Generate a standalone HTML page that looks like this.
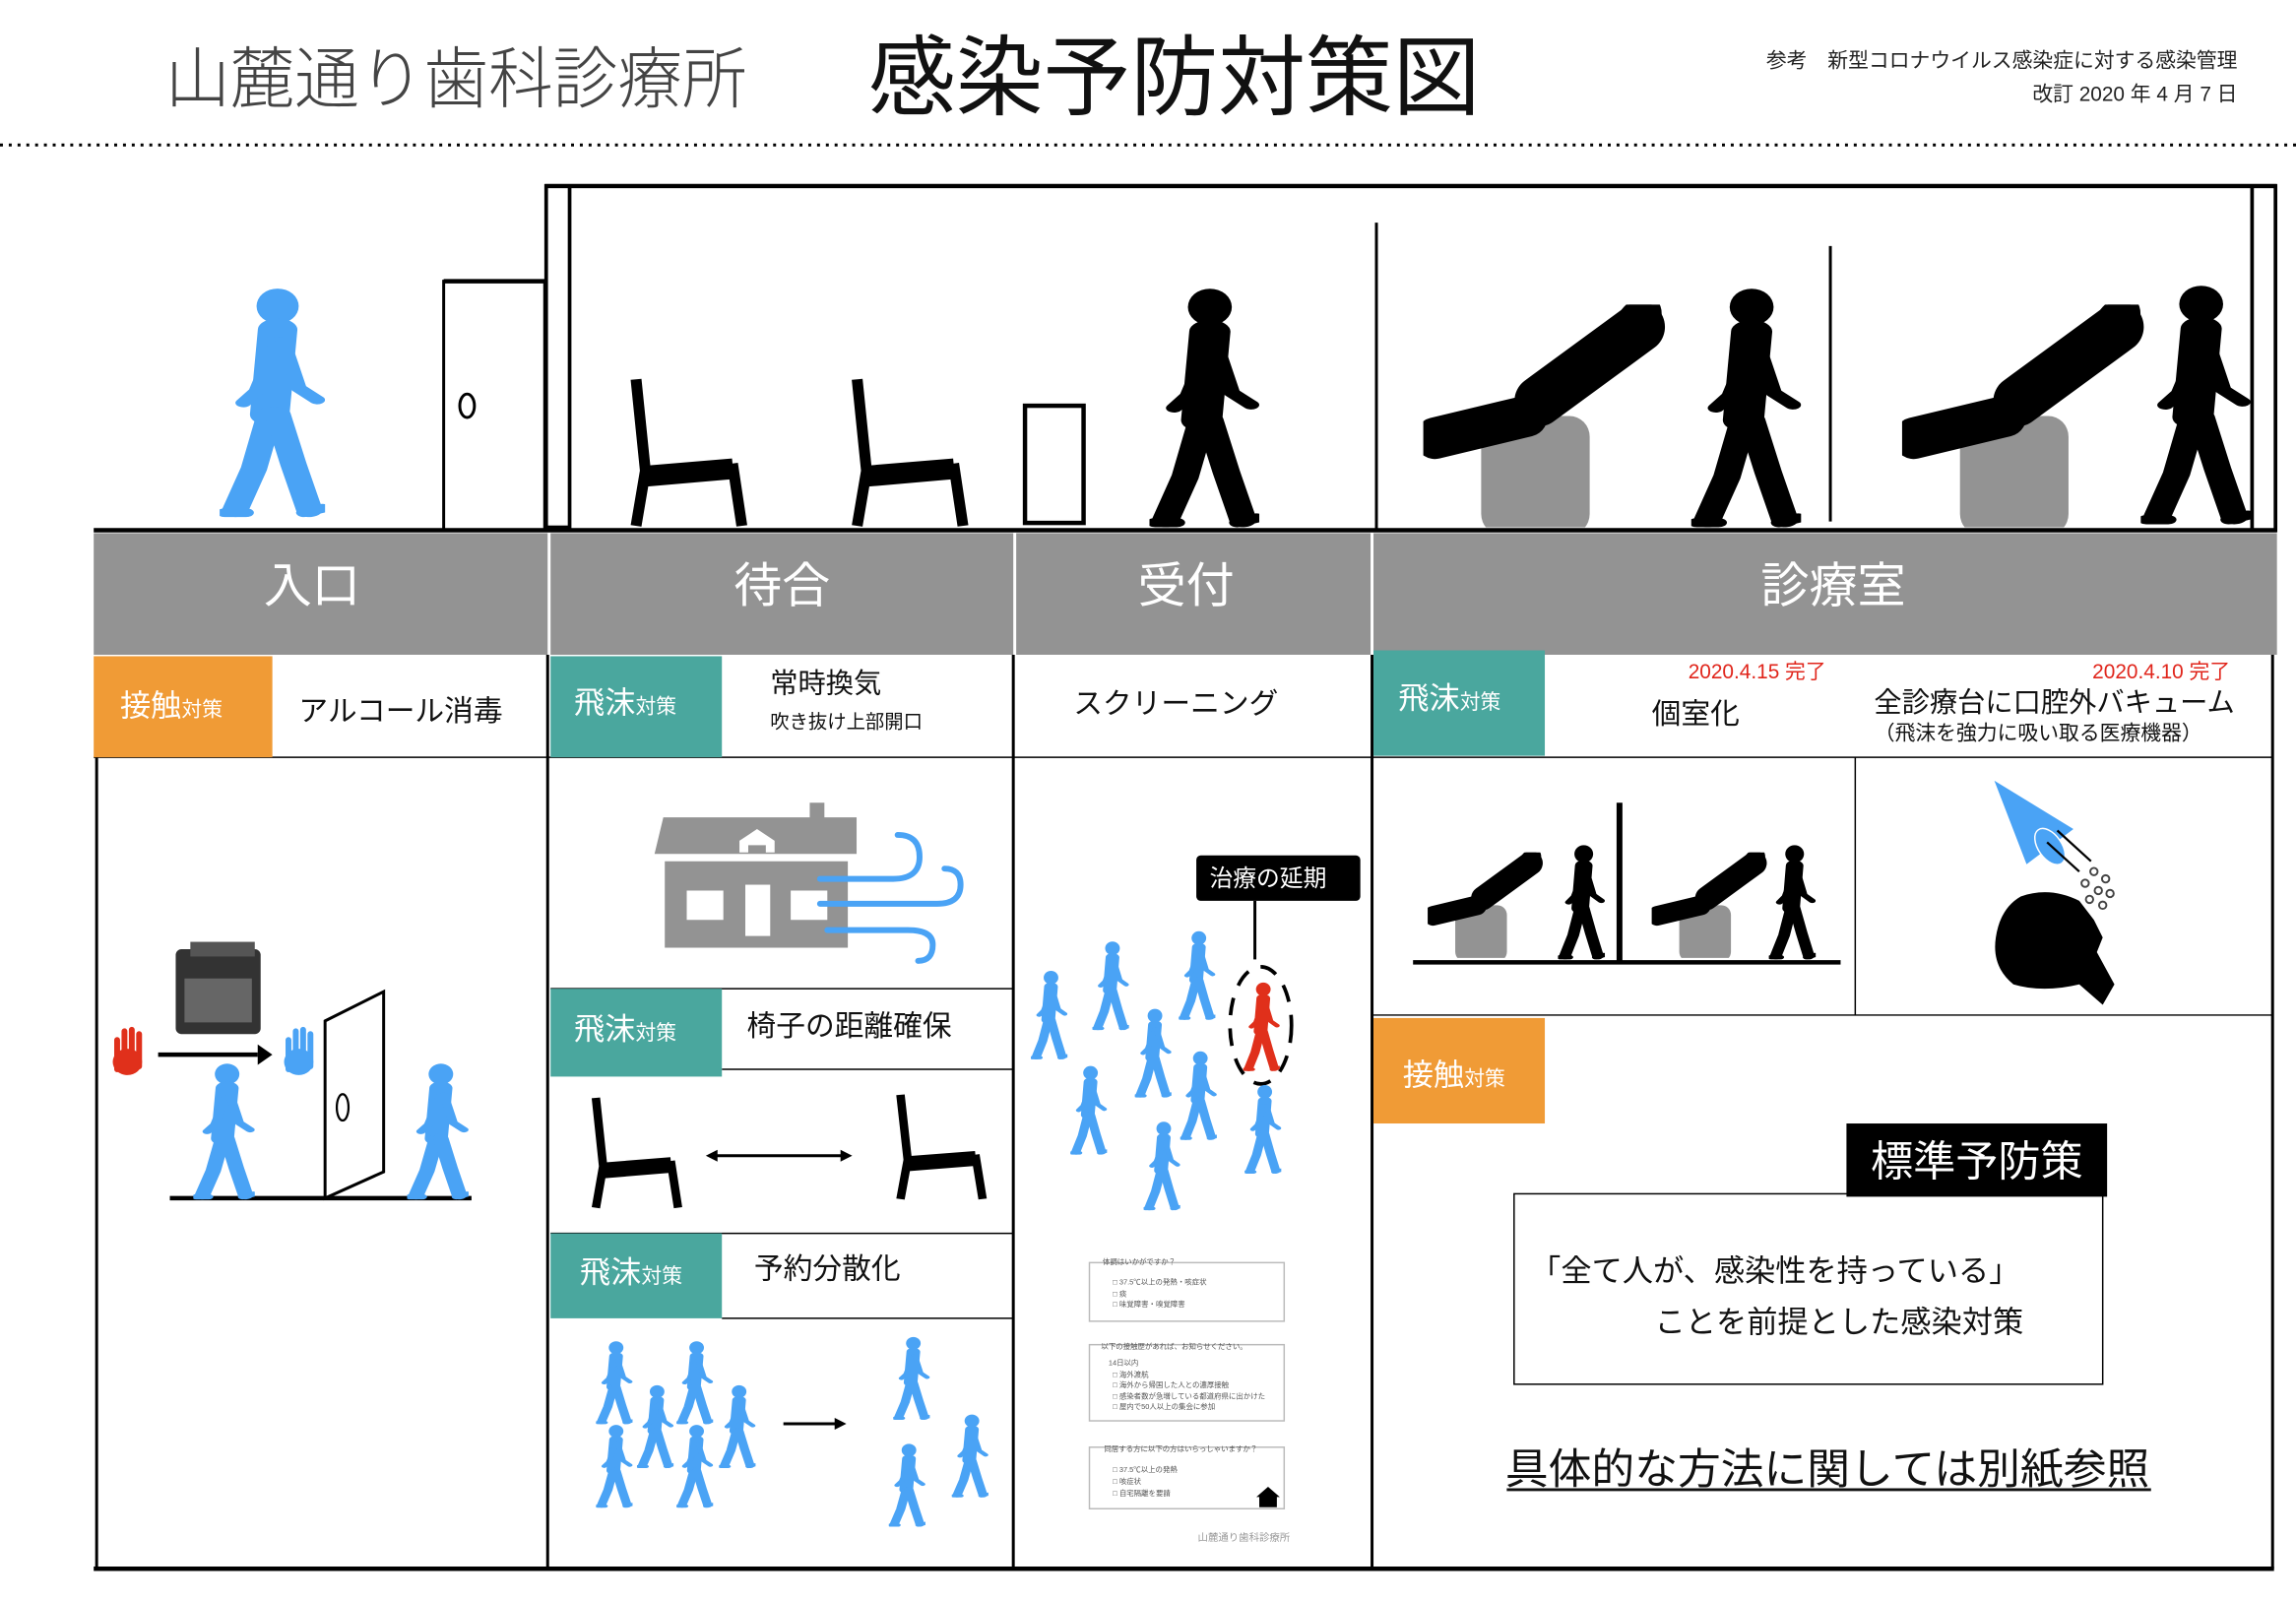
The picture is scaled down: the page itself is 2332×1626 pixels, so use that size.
<!DOCTYPE html>
<html><head><meta charset="utf-8"><style>
html,body{margin:0;padding:0;background:#fff}
svg{display:block}
text{font-family:"Liberation Sans","Noto Sans CJK JP",sans-serif}
</style></head><body>
<svg width="2332" height="1626" viewBox="0 0 1568 1093" preserveAspectRatio="none" xmlns="http://www.w3.org/2000/svg">
<defs>
<symbol id="p" viewBox="0 0 40 160" preserveAspectRatio="none">
<g fill="currentColor" stroke="currentColor" stroke-linecap="round" stroke-linejoin="round">
<ellipse cx="22" cy="14" rx="8" ry="12" stroke="none"/>
<path d="M22 30 L19 88" stroke-width="15" fill="none"/>
<path d="M22 38 L14 72 L9 80" stroke-width="6" fill="none"/>
<path d="M24 38 L30 70 L37 78" stroke-width="6" fill="none"/>
<path d="M19 88 L13 125 L6 153" stroke-width="10" fill="none"/>
<path d="M22 88 L28 122 L34 153" stroke-width="10" fill="none"/>
<path d="M2 155 L10 155 M32 155 L39 152" stroke-width="6"/>
</g></symbol>
<symbol id="ch" viewBox="0 0 80 105" preserveAspectRatio="none">
<g fill="none" stroke="#000" stroke-width="7" stroke-linejoin="round">
<path d="M6 2 L12 65 L6 103"/><path d="M12 65 L68 60"/><path d="M68 60 L74 103"/><path d="M12 72 L66 67" stroke-width="8"/>
</g></symbol>
<symbol id="dc" viewBox="0 0 170 150" preserveAspectRatio="none">
<rect x="40" y="75" width="75" height="80" rx="14" fill="#939393"/>
<path d="M8 90 L72 75" stroke="#000" stroke-width="28" stroke-linecap="round"/>
<path d="M80 65 L150 15" stroke="#000" stroke-width="34" stroke-linecap="round"/>
<ellipse cx="148" cy="12" rx="14" ry="20" transform="rotate(40 148 12)" fill="#000"/>
</symbol>
</defs>

<!-- header -->
<text x="113" y="70" font-size="46" fill="#444" font-weight="300" textLength="397" lengthAdjust="spacingAndGlyphs">山麓通り歯科診療所</text>
<text x="593" y="74" font-size="60" fill="#111" textLength="418" lengthAdjust="spacingAndGlyphs">感染予防対策図</text>
<text x="1528" y="46" font-size="14" fill="#222" text-anchor="end">参考　新型コロナウイルス感染症に対する感染管理</text>
<text x="1528" y="69" font-size="14" fill="#222" text-anchor="end">改訂 2020 年 4 月 7 日</text>
<line x1="0" y1="99" x2="1568" y2="99" stroke="#000" stroke-width="2" stroke-dasharray="2,4"/>

<!-- building -->
<line x1="372" y1="127" x2="1555" y2="127" stroke="#000" stroke-width="3"/>
<rect x="373" y="127" width="16" height="233" fill="none" stroke="#000" stroke-width="2.5"/>
<rect x="1538" y="127" width="16" height="235" fill="none" stroke="#000" stroke-width="2.5"/>
<rect x="303" y="192" width="69" height="170" fill="none" stroke="#000" stroke-width="2"/>
<line x1="303" y1="192" x2="372" y2="192" stroke="#000" stroke-width="3"/>
<ellipse cx="319" cy="277" rx="5" ry="8" fill="none" stroke="#000" stroke-width="2"/>
<line x1="940" y1="152" x2="940" y2="362" stroke="#000" stroke-width="2"/>
<line x1="1250" y1="168" x2="1250" y2="356" stroke="#000" stroke-width="2"/>
<line x1="64" y1="362" x2="1555" y2="362" stroke="#000" stroke-width="3"/>
<rect x="700" y="277" width="40" height="80" fill="none" stroke="#000" stroke-width="3"/>

<use href="#p" x="150" y="195" width="72" height="160" color="#4aa3f5"/>
<use href="#ch" x="428" y="257" width="85" height="104"/>
<use href="#ch" x="579" y="257" width="85" height="104"/>
<use href="#p" x="785" y="195" width="75" height="167" color="#000"/>
<use href="#dc" x="972" y="208" width="168" height="152"/>
<use href="#p" x="1155" y="195" width="75" height="167" color="#000"/>
<use href="#dc" x="1299" y="208" width="168" height="152"/>
<use href="#p" x="1462" y="193" width="75" height="167" color="#000"/>

<!-- header band -->
<rect x="64" y="364" width="1491" height="83" fill="#939393"/>
<g stroke="#fff" stroke-width="2"><line x1="375" y1="364" x2="375" y2="447"/><line x1="693" y1="364" x2="693" y2="447"/><line x1="937" y1="364" x2="937" y2="447"/></g>
<g font-size="33" fill="#fff" text-anchor="middle">
<text x="213" y="411">入口</text><text x="534" y="411">待合</text><text x="810" y="411">受付</text><text x="1252" y="411">診療室</text></g>

<!-- grid lines -->
<g stroke="#000" stroke-width="2" fill="none">
<line x1="66" y1="517" x2="66" y2="1071"/>
<line x1="374" y1="447" x2="374" y2="1071"/>
<line x1="692" y1="447" x2="692" y2="1071"/>
<line x1="937" y1="447" x2="937" y2="1071"/>
<line x1="1552" y1="447" x2="1552" y2="1071"/>
<line x1="64" y1="1071" x2="1553" y2="1071" stroke-width="3"/>
<line x1="64" y1="517" x2="1552" y2="517" stroke-width="1"/>
<line x1="376" y1="675" x2="692" y2="675" stroke-width="1"/>
<line x1="493" y1="730" x2="692" y2="730" stroke-width="1"/>
<line x1="376" y1="842" x2="692" y2="842" stroke-width="1"/>
<line x1="493" y1="900" x2="692" y2="900" stroke-width="1"/>
<line x1="938" y1="693" x2="1552" y2="693" stroke-width="1"/>
<line x1="1267" y1="517" x2="1267" y2="693" stroke-width="1"/>
</g>

<!-- row 2 -->
<rect x="64" y="448" width="122" height="69" fill="#f09b36"/>
<text x="82" y="489" font-size="21" fill="#fff">接触<tspan font-size="14">対策</tspan></text>
<text x="204" y="492" font-size="20" fill="#111">アルコール消毒</text>
<rect x="376" y="448" width="117" height="69" fill="#4aa79e"/>
<text x="392" y="487" font-size="21" fill="#fff">飛沫<tspan font-size="14">対策</tspan></text>
<text x="526" y="473" font-size="19" fill="#111">常時換気</text>
<text x="526" y="497" font-size="13" fill="#111">吹き抜け上部開口</text>
<text x="803" y="487" font-size="20" fill="#111" text-anchor="middle">スクリーニング</text>
<rect x="938" y="444" width="117" height="72" fill="#4aa79e"/>
<text x="955" y="484" font-size="21" fill="#fff">飛沫<tspan font-size="14">対策</tspan></text>
<text x="1200" y="463" font-size="14" fill="#e0251b" text-anchor="middle">2020.4.15 完了</text>
<text x="1158" y="494" font-size="20" fill="#111" text-anchor="middle">個室化</text>
<text x="1476" y="463" font-size="14" fill="#e0251b" text-anchor="middle">2020.4.10 完了</text>
<text x="1403" y="486" font-size="19" fill="#111" text-anchor="middle">全診療台に口腔外バキューム</text>
<text x="1392" y="505" font-size="14" fill="#111" text-anchor="middle">（飛沫を強力に吸い取る医療機器）</text>

<!-- entrance panel -->
<rect x="120" y="648" width="58" height="58" rx="4" fill="#333"/>
<rect x="126" y="668" width="46" height="30" fill="#666"/>
<rect x="130" y="643" width="44" height="10" fill="#555"/>
<path d="M80 730 L80 710 M85 728 L85 704 M90 728 L90 703 M95 728 L95 706" stroke="#e0301b" stroke-width="4" stroke-linecap="round"/>
<ellipse cx="87" cy="725" rx="10" ry="9" fill="#e0301b"/>
<path d="M197 730 L197 710 M202 728 L202 704 M207 728 L207 703 M212 728 L212 706" stroke="#4aa3f5" stroke-width="4" stroke-linecap="round"/>
<ellipse cx="204" cy="725" rx="10" ry="9" fill="#4aa3f5"/>
<line x1="108" y1="720" x2="176" y2="720" stroke="#000" stroke-width="3"/>
<polygon points="176,713 186,720 176,727" fill="#000"/>
<polygon points="222,697 262,677 262,800 222,818" fill="none" stroke="#000" stroke-width="2"/>
<ellipse cx="234" cy="756" rx="4" ry="9" fill="none" stroke="#000" stroke-width="1.5"/>
<line x1="116" y1="818" x2="322" y2="818" stroke="#000" stroke-width="3"/>
<use href="#p" x="132" y="725" width="42" height="95" color="#4aa3f5"/>
<use href="#p" x="278" y="725" width="42" height="95" color="#4aa3f5"/>

<!-- waiting: house -->
<polygon points="453,558 553,558 553,548 563,548 563,558 585,558 585,583 447,583" fill="#939393"/>
<rect x="454" y="588" width="125" height="59" fill="#939393"/>
<rect x="469" y="608" width="25" height="20" fill="#fff"/>
<rect x="509" y="604" width="17" height="35" fill="#fff"/>
<rect x="540" y="608" width="25" height="20" fill="#fff"/>
<path d="M505 582 L505 574 L517 566 L529 574 L529 582 Z M511 582 L523 582 L523 577 L511 577 Z" fill="#fff" fill-rule="evenodd"/>
<g fill="none" stroke="#4aa3f5" stroke-width="4" stroke-linecap="round">
<path d="M560 600 L610 600 Q628 600 628 585 Q628 570 613 570"/>
<path d="M560 617 L640 617 Q656 617 656 604 Q656 593 645 593"/>
<path d="M565 635 L620 635 Q637 635 637 645 Q637 656 627 656"/>
</g>
<rect x="376" y="675" width="117" height="60" fill="#4aa79e"/>
<text x="392" y="710" font-size="21" fill="#fff">飛沫<tspan font-size="14">対策</tspan></text>
<text x="510" y="707" font-size="20" fill="#111">椅子の距離確保</text>
<use href="#ch" x="402" y="748" width="66" height="78"/>
<use href="#ch" x="610" y="746" width="66" height="74"/>
<line x1="488" y1="789" x2="576" y2="789" stroke="#000" stroke-width="2"/>
<polygon points="482,789 490,785 490,793" fill="#000"/><polygon points="582,789 574,785 574,793" fill="#000"/>
<rect x="376" y="842" width="117" height="58" fill="#4aa79e"/>
<text x="396" y="876" font-size="21" fill="#fff">飛沫<tspan font-size="14">対策</tspan></text>
<text x="515" y="873" font-size="20" fill="#111">予約分散化</text>
<g color="#4aa3f5">
<use href="#p" x="407" y="915" width="25" height="58"/>
<use href="#p" x="462" y="915" width="25" height="58"/>
<use href="#p" x="435" y="945" width="25" height="58"/>
<use href="#p" x="491" y="945" width="25" height="58"/>
<use href="#p" x="407" y="972" width="25" height="58"/>
<use href="#p" x="462" y="972" width="25" height="58"/>
<use href="#p" x="610" y="912" width="25" height="58"/>
<use href="#p" x="650" y="965" width="25" height="58"/>
<use href="#p" x="607" y="985" width="25" height="58"/>
</g>
<line x1="535" y1="972" x2="572" y2="972" stroke="#000" stroke-width="2"/>
<polygon points="578,972 570,968 570,976" fill="#000"/>

<!-- reception -->
<rect x="817" y="584" width="112" height="31" rx="3" fill="#000"/>
<text x="826" y="605" font-size="16" fill="#fff">治療の延期</text>
<line x1="857" y1="615" x2="857" y2="655" stroke="#000" stroke-width="2"/>
<ellipse cx="861" cy="700" rx="21" ry="40" fill="none" stroke="#000" stroke-width="2.5" stroke-dasharray="12,9"/>
<use href="#p" x="849" y="670" width="25" height="62" color="#e0301b"/>
<g color="#4aa3f5">
<use href="#p" x="704" y="662" width="25" height="62"/>
<use href="#p" x="746" y="642" width="25" height="62"/>
<use href="#p" x="805" y="635" width="25" height="62"/>
<use href="#p" x="775" y="688" width="25" height="62"/>
<use href="#p" x="731" y="727" width="25" height="62"/>
<use href="#p" x="806" y="717" width="25" height="62"/>
<use href="#p" x="850" y="740" width="25" height="62"/>
<use href="#p" x="781" y="765" width="25" height="62"/>
</g>
<g fill="none" stroke="#bbb" stroke-width="1">
<rect x="744" y="862" width="133" height="40"/><rect x="744" y="918" width="133" height="52"/><rect x="744" y="988" width="133" height="42"/>
</g>
<g font-size="5" fill="#555">
<text x="753" y="863">体調はいかがですか？</text><text x="760" y="877">□ 37.5℃以上の発熱・咳症状</text><text x="760" y="885">□ 痰</text><text x="760" y="892">□ 味覚障害・嗅覚障害</text>
<text x="752" y="921">以下の接触歴があれば、お知らせください。</text><text x="757" y="932">14日以内</text><text x="760" y="940">□ 海外渡航</text><text x="760" y="947">□ 海外から帰国した人との濃厚接触</text><text x="760" y="955">□ 感染者数が急増している都道府県に出かけた</text><text x="760" y="962">□ 屋内で50人以上の集会に参加</text>
<text x="754" y="991">同居する方に以下の方はいらっしゃいますか？</text><text x="760" y="1005">□ 37.5℃以上の発熱</text><text x="760" y="1013">□ 咳症状</text><text x="760" y="1021">□ 自宅隔離を要請</text>
<text x="818" y="1052" fill="#999" font-size="7">山麓通り歯科診療所</text>
</g>
<polygon points="866,1015 874,1022 872,1022 872,1029 860,1029 860,1022 858,1022" fill="#000"/>

<!-- clinic -->
<line x1="965" y1="657" x2="1257" y2="657" stroke="#000" stroke-width="3"/>
<line x1="1106" y1="548" x2="1106" y2="657" stroke="#000" stroke-width="4"/>
<use href="#dc" x="975" y="582" width="80" height="72"/>
<use href="#p" x="1064" y="576" width="32" height="80" color="#000"/>
<use href="#dc" x="1128" y="582" width="80" height="72"/>
<use href="#p" x="1208" y="576" width="32" height="80" color="#000"/>
<polygon points="1362,533 1416,566 1384,590" fill="#4aa3f5"/>
<ellipse cx="1400" cy="578" rx="8" ry="14" transform="rotate(-35 1400 578)" fill="#4aa3f5" stroke="#fff" stroke-width="1"/>
<g stroke="#000" stroke-width="1.5"><line x1="1420" y1="595" x2="1398" y2="575"/><line x1="1428" y1="588" x2="1405" y2="567"/></g>
<g fill="none" stroke="#444" stroke-width="1.3">
<circle cx="1430" cy="595" r="2.5"/><circle cx="1438" cy="600" r="2.5"/><circle cx="1424" cy="603" r="2.5"/><circle cx="1433" cy="608" r="2.5"/><circle cx="1441" cy="610" r="2.5"/><circle cx="1427" cy="614" r="2.5"/><circle cx="1436" cy="618" r="2.5"/>
</g>
<path d="M1380 612 Q1400 605 1420 615 L1430 628 L1436 640 L1432 650 L1444 672 L1436 686 L1420 672 Q1395 678 1375 672 Q1360 660 1363 640 Q1366 620 1380 612 Z" fill="#000"/>
<rect x="938" y="695" width="117" height="72" fill="#f09b36"/>
<text x="958" y="741" font-size="21" fill="#fff">接触<tspan font-size="14">対策</tspan></text>
<rect x="1034" y="815" width="402" height="130" fill="none" stroke="#000" stroke-width="1"/>
<rect x="1261" y="767" width="178" height="50" fill="#000"/>
<text x="1350" y="803" font-size="29" fill="#fff" text-anchor="middle">標準予防策</text>
<text x="1045" y="875" font-size="21" fill="#111">「全て人が、感染性を持っている」</text>
<text x="1130" y="910" font-size="21" fill="#111">ことを前提とした感染対策</text>
<text x="1248" y="1013" font-size="29" fill="#111" text-anchor="middle" textLength="440" lengthAdjust="spacingAndGlyphs">具体的な方法に関しては別紙参照</text>
<line x1="1029" y1="1017" x2="1469" y2="1017" stroke="#111" stroke-width="2"/>
</svg>
</body></html>
